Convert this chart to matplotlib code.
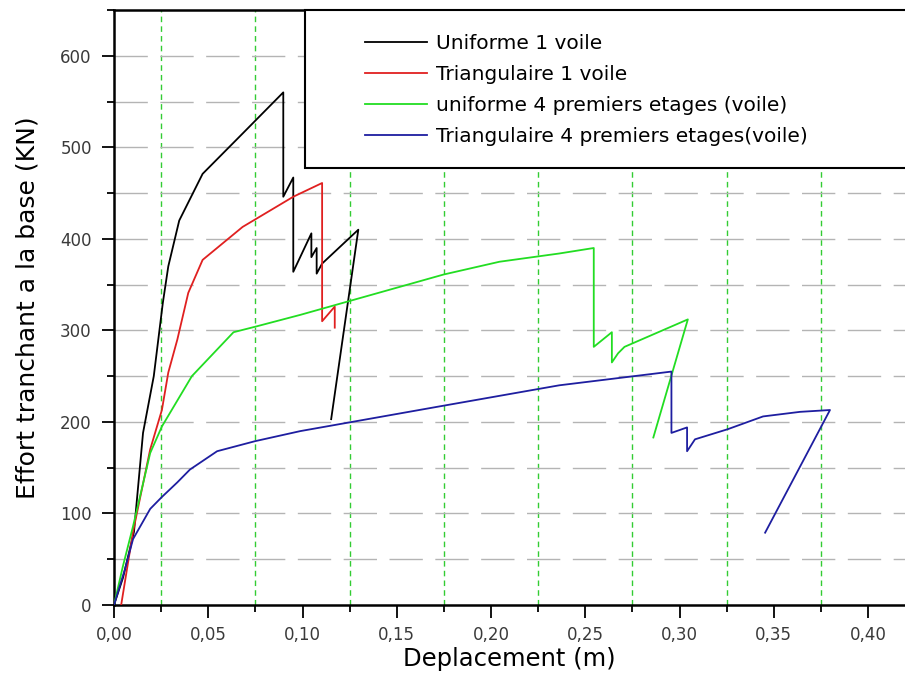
import matplotlib
matplotlib.use('Agg')
import matplotlib.pyplot as plt
from matplotlib.ticker import MultipleLocator, FuncFormatter
from matplotlib.patches import Rectangle

# data (deplacement m, effort KN)
x_unif1 = [0.0, 0.0048, 0.0106, 0.0154, 0.0211, 0.0259, 0.0288, 0.0346, 0.0470, 0.0682, 0.0898,
           0.0898, 0.0951, 0.0951, 0.1047, 0.1047, 0.1075, 0.1075, 0.1104, 0.1296, 0.1152]
y_unif1 = [0, 30, 80, 188, 250, 330, 370, 420, 471, 515, 560,
           446, 467, 364, 406, 380, 390, 362, 373, 410, 203]

x_tri1 = [0.0038, 0.0101, 0.0192, 0.0254, 0.0288, 0.0336, 0.0394, 0.0470, 0.0682, 0.0951, 0.1104,
          0.1104, 0.1171, 0.1171]
y_tri1 = [0, 80, 170, 213, 254, 290, 341, 377, 413, 446, 461,
          310, 326, 303]

x_unif4 = [0.0, 0.0048, 0.0101, 0.0192, 0.0254, 0.0413, 0.0634, 0.0749, 0.0989, 0.1748, 0.2045,
           0.2362, 0.2545, 0.2545, 0.2641, 0.2641, 0.2674, 0.2708, 0.3044, 0.2861]
y_unif4 = [0, 43, 86, 166, 195, 250, 298, 304, 317, 361, 375,
           384, 390, 282, 298, 265, 275, 282, 312, 183]

x_tri4 = [0.0, 0.0058, 0.0101, 0.0192, 0.0254, 0.0336, 0.0403, 0.0547, 0.0749, 0.0989, 0.1728,
          0.2362, 0.2957, 0.2957, 0.3040, 0.3040, 0.3082, 0.3255, 0.3443, 0.3639, 0.3798, 0.3454]
y_tri4 = [0, 39, 72, 105, 118, 134, 148, 168, 179, 190, 217,
          240, 255, 188, 194, 168, 181, 192, 206, 211, 213, 79]

labels = ['Uniforme 1 voile', 'Triangulaire 1 voile',
          'uniforme 4 premiers etages (voile)', 'Triangulaire 4 premiers etages(voile)']

plt.rcParams['font.family'] = ['DejaVu Sans']

fig = plt.figure(figsize=(9.05, 7), dpi=100)
ax = fig.add_axes([114/905, 1-605/700, 1-114/905, 595/700])

ax.set_xlim(0, 0.4196)
ax.set_ylim(0, 650)

# grid lines
for xv in [0.025 + 0.05*i for i in range(8)]:
    ax.axvline(xv, color='#33cc33', lw=1.0, dashes=(4, 3), zorder=1)
for yv in range(50, 650, 50):
    ax.axhline(yv, color='#b4b4b4', lw=1.0, dashes=(24, 9), zorder=1)

ax.plot(x_unif1, y_unif1, color='black', lw=1.3, label=labels[0], zorder=3)
ax.plot(x_tri1, y_tri1, color='#e02020', lw=1.3, label=labels[1], zorder=3)
ax.plot(x_unif4, y_unif4, color='#22dd22', lw=1.3, label=labels[2], zorder=3)
ax.plot(x_tri4, y_tri4, color='#1e1ea0', lw=1.3, label=labels[3], zorder=3)

ax.xaxis.set_major_locator(MultipleLocator(0.05))
ax.xaxis.set_minor_locator(MultipleLocator(0.025))
ax.yaxis.set_major_locator(MultipleLocator(100))
ax.yaxis.set_minor_locator(MultipleLocator(50))
ax.xaxis.set_major_formatter(FuncFormatter(lambda v, p: ('%.2f' % v).replace('.', ',')))
ax.tick_params(which='major', direction='out', length=9, width=1.3, labelsize=12,
               colors='black', labelcolor='#3a3a3a', pad=6)
ax.tick_params(which='minor', direction='out', length=5, width=1.3)
ax.tick_params(axis='y', pad=7)

for s in ['left', 'bottom', 'top']:
    ax.spines[s].set_linewidth(1.8)
ax.spines['right'].set_visible(False)

ax.set_xlabel('Deplacement (m)', fontsize=17.5, labelpad=2)
ax.set_ylabel('Effort tranchant a la base (KN)', fontsize=18, labelpad=15)

# legend box
box = Rectangle((0.2415, 0.7345), 0.8, 0.2655, transform=ax.transAxes, facecolor='white',
                edgecolor='black', lw=1.5, zorder=5, clip_on=False)
ax.add_patch(box)
leg = ax.legend(loc='upper left', bbox_to_anchor=((365-114)/791, 1-24/595), frameon=False,
                fontsize=14.5, handlelength=3.1, handletextpad=0.45, labelspacing=0.6,
                borderpad=0, borderaxespad=0)
leg.set_zorder(6)

fig.savefig('out.png', dpi=100)
